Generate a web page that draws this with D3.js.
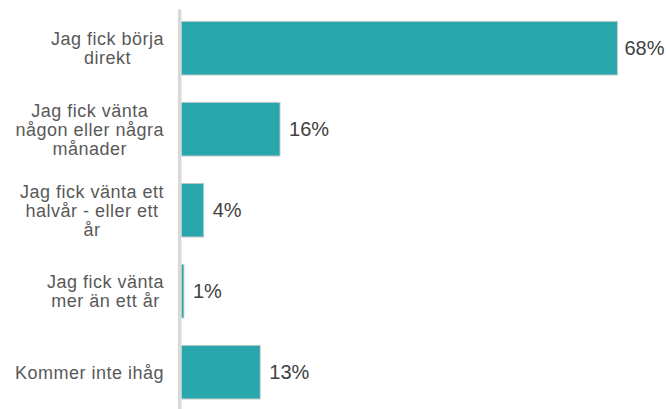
<!DOCTYPE html>
<html>
<head>
<meta charset="utf-8">
<script src="https://cdn.jsdelivr.net/npm/d3@7"></script>
<style>
  html, body { margin: 0; padding: 0; background: #ffffff; }
  svg { display: block; }
</style>
</head>
<body>
<div id="chart"></div>
<script>
// ---- data ----
const categories = [
  "Jag fick börja direkt",
  "Jag fick vänta någon eller några månader",
  "Jag fick vänta ett halvår - eller ett år",
  "Jag fick vänta mer än ett år",
  "Kommer inte ihåg"
];
const categoryLines = [
  ["Jag fick börja", "direkt"],
  ["Jag fick vänta", "någon eller några", "månader"],
  ["Jag fick vänta ett", "halvår - eller ett", "år"],
  ["Jag fick vänta", "mer än ett år"],
  ["Kommer inte ihåg"]
];
const values = [68.4, 15.4, 3.4, 0.3, 12.3];
const valueLabels = ["68%", "16%", "4%", "1%", "13%"];

// ---- layout ----
const W = 666, H = 409;
const svg = d3.select("#chart").append("svg").attr("width", W).attr("height", H);

const y = d3.scaleBand()
  .domain(categories)
  .range([9, 411.4])
  .paddingInner(0.35)
  .paddingOuter(0.159);

const x = d3.scaleLinear()
  .domain([0, 100])
  .range([181.5, 181.5 + 636.7]);

const data = categories.map((c, i) => ({ c, v: values[i], label: valueLabels[i], lines: categoryLines[i] }));

// bars (subtle grey edge behind, then teal fill)
svg.append("g").selectAll("rect.shadow").data(data).join("rect")
  .attr("class", "shadow")
  .attr("x", x(0))
  .attr("y", d => y(d.c) - 1)
  .attr("width", d => x(d.v) - x(0) + 1)
  .attr("height", y.bandwidth() + 2)
  .attr("fill", "#c9cccc");

svg.append("g").selectAll("rect.bar").data(data).join("rect")
  .attr("class", "bar")
  .attr("x", x(0))
  .attr("y", d => y(d.c))
  .attr("width", d => x(d.v) - x(0))
  .attr("height", y.bandwidth())
  .attr("fill", "#2aa6ad");

// y axis line
const yAxis = svg.append("g")
  .attr("transform", `translate(179.2,0)`)
  .call(d3.axisLeft(y).tickSize(0).tickFormat(""));
yAxis.select(".domain").attr("stroke", "#d9d9d9").attr("stroke-width", 3.6);

// value labels
svg.append("g").selectAll("text").data(data).join("text")
  .attr("font-family", "'Liberation Sans', Arial, sans-serif")
  .attr("font-size", 20)
  .attr("fill", "#404040")
  .attr("y", d => y(d.c) + y.bandwidth() / 2 + 7)
  .text(d => d.label)
  .each(function(d) {
    const w = this.getComputedTextLength();
    let xx = x(d.v) + 9.5;
    if (xx + w > W - 1.5) xx = W - 1.5 - w;
    d3.select(this).attr("x", xx);
  });

// category labels (multi-line, centered within right-aligned block)
const rightEdge = 164;
const lineH = 18.8;
const labG = svg.append("g")
  .attr("font-family", "'Liberation Sans', Arial, sans-serif")
  .attr("font-size", 18)
  .attr("letter-spacing", "0.5px")
  .attr("fill", "#595959");

data.forEach(d => {
  const g = labG.append("g");
  const n = d.lines.length;
  const cy = y(d.c) + y.bandwidth() / 2;
  const texts = d.lines.map((ln, i) =>
    g.append("text")
      .attr("text-anchor", "middle")
      .attr("y", cy + (i - (n - 1) / 2) * lineH + 6.5)
      .text(ln)
  );
  const maxW = d3.max(texts, t => t.node().getComputedTextLength());
  const cx = rightEdge - maxW / 2;
  texts.forEach(t => t.attr("x", cx));
});
</script>
</body>
</html>
